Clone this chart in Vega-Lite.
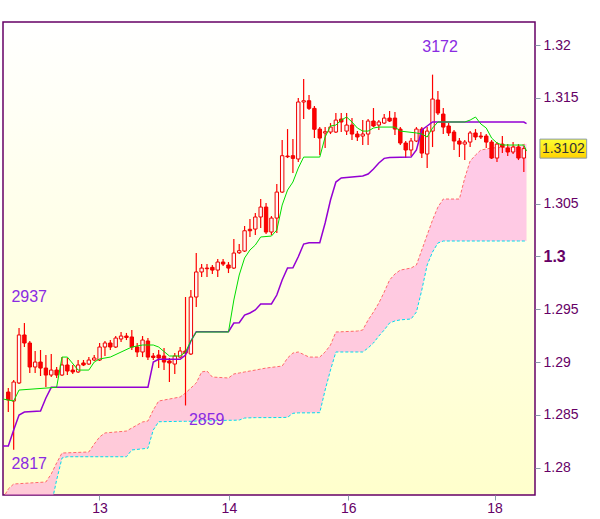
{
"$schema": "https://vega.github.io/schema/vega-lite/v6.json",
"width": 532, "height": 473,
"autosize": {"type": "none"},
"padding": {"left": 3, "top": 22, "right": 65, "bottom": 24},
"background": "#ffffff",
"config": {"view": {"stroke": null}, "scale": {"continuousPadding": 0}, "axis": {"grid": false, "domain": false, "tickColor": "#8a9aab", "tickSize": 5, "labelColor": "#660066", "labelFont": "Liberation Sans", "labelFontSize": 14}},
"datasets": {
"candles": [
{"i":0,"o":1.28717,"h":1.28755,"l":1.28528,"c":1.28642},
{"i":1,"o":1.28632,"h":1.28831,"l":1.2817,"c":1.28812},
{"i":2,"o":1.28803,"h":1.29323,"l":1.28793,"c":1.29257},
{"i":3,"o":1.29257,"h":1.2937,"l":1.29143,"c":1.29181},
{"i":4,"o":1.29181,"h":1.292,"l":1.28897,"c":1.28954},
{"i":5,"o":1.28954,"h":1.29105,"l":1.28897,"c":1.29001},
{"i":6,"o":1.29001,"h":1.29115,"l":1.28869,"c":1.28944},
{"i":7,"o":1.28944,"h":1.29067,"l":1.28765,"c":1.28878},
{"i":8,"o":1.28878,"h":1.29077,"l":1.28859,"c":1.28925},
{"i":9,"o":1.28925,"h":1.28954,"l":1.2885,"c":1.28878},
{"i":10,"o":1.28878,"h":1.29048,"l":1.28869,"c":1.28973},
{"i":11,"o":1.28973,"h":1.29039,"l":1.28878,"c":1.28916},
{"i":12,"o":1.28925,"h":1.28973,"l":1.28888,"c":1.28907},
{"i":13,"o":1.28907,"h":1.2902,"l":1.28897,"c":1.28973},
{"i":14,"o":1.28992,"h":1.2902,"l":1.28963,"c":1.28973},
{"i":15,"o":1.28982,"h":1.29048,"l":1.28973,"c":1.2902},
{"i":16,"o":1.2902,"h":1.29067,"l":1.29011,"c":1.29039},
{"i":17,"o":1.2902,"h":1.29181,"l":1.29011,"c":1.29143},
{"i":18,"o":1.29143,"h":1.292,"l":1.29058,"c":1.29181},
{"i":19,"o":1.29181,"h":1.29209,"l":1.29115,"c":1.29143},
{"i":20,"o":1.29143,"h":1.29247,"l":1.29134,"c":1.29228},
{"i":21,"o":1.29219,"h":1.29285,"l":1.2919,"c":1.29247},
{"i":22,"o":1.29247,"h":1.29276,"l":1.29209,"c":1.29233},
{"i":23,"o":1.29238,"h":1.29304,"l":1.29115,"c":1.29143},
{"i":24,"o":1.29143,"h":1.29181,"l":1.29048,"c":1.29096},
{"i":25,"o":1.29096,"h":1.29247,"l":1.29048,"c":1.29209},
{"i":26,"o":1.292,"h":1.29228,"l":1.2902,"c":1.29048},
{"i":27,"o":1.29058,"h":1.29086,"l":1.2902,"c":1.29044},
{"i":28,"o":1.29067,"h":1.29115,"l":1.28944,"c":1.29039},
{"i":29,"o":1.29058,"h":1.29134,"l":1.28925,"c":1.29001},
{"i":30,"o":1.29011,"h":1.29039,"l":1.28812,"c":1.28992},
{"i":31,"o":1.28982,"h":1.29086,"l":1.28888,"c":1.29058},
{"i":32,"o":1.29048,"h":1.29143,"l":1.29039,"c":1.29105},
{"i":33,"o":1.29105,"h":1.29616,"l":1.2859,"c":1.29086},
{"i":34,"o":1.29077,"h":1.29682,"l":1.29067,"c":1.29616},
{"i":35,"o":1.29616,"h":1.30032,"l":1.29521,"c":1.29853},
{"i":36,"o":1.29853,"h":1.29928,"l":1.29805,"c":1.2989},
{"i":37,"o":1.2989,"h":1.29928,"l":1.29805,"c":1.29884},
{"i":38,"o":1.29897,"h":1.29919,"l":1.29834,"c":1.29871},
{"i":39,"o":1.29871,"h":1.29976,"l":1.29805,"c":1.29947},
{"i":40,"o":1.29947,"h":1.29976,"l":1.29909,"c":1.29928},
{"i":41,"o":1.29919,"h":1.29947,"l":1.29843,"c":1.2989},
{"i":42,"o":1.2989,"h":1.30165,"l":1.29881,"c":1.30032},
{"i":43,"o":1.30035,"h":1.30117,"l":1.30023,"c":1.30054},
{"i":44,"o":1.30051,"h":1.30288,"l":1.30042,"c":1.30243},
{"i":45,"o":1.30257,"h":1.30354,"l":1.30184,"c":1.30243},
{"i":46,"o":1.30259,"h":1.30411,"l":1.30203,"c":1.30373},
{"i":47,"o":1.30373,"h":1.30543,"l":1.30269,"c":1.30467},
{"i":48,"o":1.30467,"h":1.30505,"l":1.30212,"c":1.30231},
{"i":49,"o":1.30231,"h":1.30382,"l":1.30203,"c":1.30363},
{"i":50,"o":1.30363,"h":1.30685,"l":1.30222,"c":1.30609},
{"i":51,"o":1.30609,"h":1.31101,"l":1.306,"c":1.30953},
{"i":52,"o":1.3095,"h":1.31205,"l":1.30931,"c":1.30943},
{"i":53,"o":1.30953,"h":1.31111,"l":1.30789,"c":1.30928},
{"i":54,"o":1.30922,"h":1.31499,"l":1.30893,"c":1.31461},
{"i":55,"o":1.31461,"h":1.31678,"l":1.313,"c":1.31473},
{"i":56,"o":1.31473,"h":1.31527,"l":1.31385,"c":1.31401},
{"i":57,"o":1.31401,"h":1.31423,"l":1.3112,"c":1.31203},
{"i":58,"o":1.31205,"h":1.31224,"l":1.30959,"c":1.3112},
{"i":59,"o":1.31168,"h":1.31224,"l":1.31026,"c":1.3118},
{"i":60,"o":1.31177,"h":1.31262,"l":1.31158,"c":1.31224},
{"i":61,"o":1.31177,"h":1.31357,"l":1.31168,"c":1.3129},
{"i":62,"o":1.313,"h":1.31357,"l":1.31177,"c":1.31272},
{"i":63,"o":1.31186,"h":1.31357,"l":1.31149,"c":1.31243},
{"i":64,"o":1.31243,"h":1.31309,"l":1.31101,"c":1.31158},
{"i":65,"o":1.31158,"h":1.31186,"l":1.31092,"c":1.3113},
{"i":66,"o":1.31139,"h":1.3129,"l":1.31054,"c":1.31158},
{"i":67,"o":1.31158,"h":1.313,"l":1.31054,"c":1.31281},
{"i":68,"o":1.31281,"h":1.31404,"l":1.31224,"c":1.31234},
{"i":69,"o":1.31243,"h":1.3129,"l":1.31196,"c":1.31272},
{"i":70,"o":1.31262,"h":1.31347,"l":1.31253,"c":1.31309},
{"i":71,"o":1.31309,"h":1.31376,"l":1.31272,"c":1.31281},
{"i":72,"o":1.31309,"h":1.31366,"l":1.31149,"c":1.31205},
{"i":73,"o":1.31205,"h":1.31224,"l":1.31054,"c":1.31073},
{"i":74,"o":1.31073,"h":1.31092,"l":1.30931,"c":1.31007},
{"i":75,"o":1.31007,"h":1.3112,"l":1.3095,"c":1.31092},
{"i":76,"o":1.31092,"h":1.31224,"l":1.31082,"c":1.31205},
{"i":77,"o":1.31205,"h":1.31224,"l":1.30931,"c":1.30978},
{"i":78,"o":1.30969,"h":1.31224,"l":1.30836,"c":1.31186},
{"i":79,"o":1.31186,"h":1.3172,"l":1.31035,"c":1.31489},
{"i":80,"o":1.3148,"h":1.31565,"l":1.31338,"c":1.31357},
{"i":81,"o":1.31347,"h":1.31404,"l":1.31158,"c":1.31224},
{"i":82,"o":1.31234,"h":1.31262,"l":1.31139,"c":1.31168},
{"i":83,"o":1.31177,"h":1.31196,"l":1.31007,"c":1.31092},
{"i":84,"o":1.31092,"h":1.3112,"l":1.3094,"c":1.31063},
{"i":85,"o":1.31063,"h":1.31101,"l":1.30912,"c":1.31082},
{"i":86,"o":1.31082,"h":1.31186,"l":1.31035,"c":1.31168},
{"i":87,"o":1.31168,"h":1.31205,"l":1.31101,"c":1.3113},
{"i":88,"o":1.31139,"h":1.31177,"l":1.31111,"c":1.3113},
{"i":89,"o":1.31139,"h":1.31158,"l":1.31026,"c":1.31082},
{"i":90,"o":1.31082,"h":1.31101,"l":1.30922,"c":1.30931},
{"i":91,"o":1.30931,"h":1.31082,"l":1.30893,"c":1.31063},
{"i":92,"o":1.31063,"h":1.31139,"l":1.30978,"c":1.31035},
{"i":93,"o":1.31026,"h":1.31063,"l":1.3095,"c":1.30988},
{"i":94,"o":1.30988,"h":1.31082,"l":1.30969,"c":1.31035},
{"i":95,"o":1.31035,"h":1.31063,"l":1.30912,"c":1.30931},
{"i":96,"o":1.30931,"h":1.31045,"l":1.30799,"c":1.3102}
],
"tenkan": [
{"i":-1,"v":1.28651},{"i":1,"v":1.28632},{"i":2,"v":1.28736},{"i":9,"v":1.28762},{"i":10,"v":1.29048},{"i":11,"v":1.29048},{"i":13,"v":1.28925},{"i":15,"v":1.28925},{"i":16,"v":1.29001},{"i":17,"v":1.2903},{"i":19,"v":1.29048},{"i":23,"v":1.29143},{"i":25,"v":1.29162},{"i":27,"v":1.29162},{"i":28,"v":1.29143},{"i":30,"v":1.29058},{"i":32,"v":1.29058},{"i":33,"v":1.29096},{"i":34,"v":1.292},{"i":35,"v":1.29285},{"i":41,"v":1.29285},{"i":42,"v":1.29588},{"i":43,"v":1.29824},{"i":44,"v":1.29985},{"i":45,"v":1.30061},{"i":46,"v":1.30108},{"i":47,"v":1.30184},{"i":49,"v":1.30193},{"i":50,"v":1.3025},{"i":51,"v":1.30486},{"i":52,"v":1.30628},{"i":53,"v":1.30704},{"i":54,"v":1.30836},{"i":55,"v":1.3094},{"i":58,"v":1.3094},{"i":59,"v":1.3113},{"i":60,"v":1.31234},{"i":61,"v":1.31243},{"i":62,"v":1.3129},{"i":63,"v":1.31319},{"i":64,"v":1.31272},{"i":65,"v":1.31215},{"i":66,"v":1.31186},{"i":67,"v":1.31186},{"i":68,"v":1.31215},{"i":69,"v":1.31224},{"i":72,"v":1.31224},{"i":73,"v":1.31186},{"i":76,"v":1.31168},{"i":77,"v":1.31158},{"i":78,"v":1.3113},{"i":79,"v":1.31215},{"i":80,"v":1.31272},{"i":85,"v":1.31272},{"i":86,"v":1.3129},{"i":87,"v":1.31319},{"i":88,"v":1.31253},{"i":89,"v":1.31215},{"i":90,"v":1.3112},{"i":91,"v":1.31073},{"i":92,"v":1.31054},{"i":96,"v":1.31054},{"i":96.5,"v":1.30997}
],
"kijun": [
{"i":-1,"v":1.28207},{"i":0,"v":1.28207},{"i":1,"v":1.28358},{"i":2,"v":1.285},{"i":3,"v":1.28528},{"i":6,"v":1.28538},{"i":7,"v":1.28661},{"i":8,"v":1.28762},{"i":26,"v":1.28762},{"i":27,"v":1.29001},{"i":28,"v":1.29027},{"i":32,"v":1.29027},{"i":33,"v":1.29067},{"i":34,"v":1.292},{"i":35,"v":1.29288},{"i":41,"v":1.29288},{"i":42,"v":1.2937},{"i":43,"v":1.29373},{"i":44,"v":1.29446},{"i":45,"v":1.29465},{"i":46,"v":1.29493},{"i":47,"v":1.2955},{"i":49,"v":1.2955},{"i":50,"v":1.29635},{"i":51,"v":1.29777},{"i":52,"v":1.2989},{"i":53,"v":1.29893},{"i":54,"v":1.29997},{"i":55,"v":1.30117},{"i":56,"v":1.3013},{"i":58,"v":1.3013},{"i":59,"v":1.30316},{"i":60,"v":1.30534},{"i":61,"v":1.30704},{"i":62,"v":1.30742},{"i":64,"v":1.30751},{"i":66,"v":1.30761},{"i":67,"v":1.3078},{"i":68,"v":1.30827},{"i":69,"v":1.30884},{"i":70,"v":1.30928},{"i":71,"v":1.30936},{"i":75,"v":1.3094},{"i":76,"v":1.31007},{"i":77,"v":1.31196},{"i":78,"v":1.31234},{"i":79,"v":1.31272},{"i":96,"v":1.31272},{"i":96.5,"v":1.31257}
],
"cloud": [
{"i":-1,"a":1.2771,"b":1.2765},{"i":0,"a":1.278,"b":1.2765},{"i":1,"a":1.27847,"b":1.2765},{"i":7,"a":1.27866,"b":1.2765},{"i":8,"a":1.27942,"b":1.27648},{"i":9,"a":1.28046,"b":1.27885},{"i":10,"a":1.2814,"b":1.28093},{"i":11,"a":1.28142,"b":1.28105},{"i":15,"a":1.2815,"b":1.28105},{"i":16,"a":1.28225,"b":1.28105},{"i":17,"a":1.28292,"b":1.28105},{"i":18,"a":1.2833,"b":1.28105},{"i":22,"a":1.28348,"b":1.28105},{"i":23,"a":1.28377,"b":1.28169},{"i":25,"a":1.28434,"b":1.2818},{"i":26,"a":1.28443,"b":1.28185},{"i":27,"a":1.28547,"b":1.28358},{"i":28,"a":1.28632,"b":1.28436},{"i":32,"a":1.2867,"b":1.2844},{"i":33,"a":1.28708,"b":1.2844},{"i":34,"a":1.28755,"b":1.2844},{"i":35,"a":1.28803,"b":1.28443},{"i":36,"a":1.28907,"b":1.28445},{"i":37,"a":1.28916,"b":1.28445},{"i":38,"a":1.28859,"b":1.28445},{"i":41,"a":1.2885,"b":1.2845},{"i":42,"a":1.28888,"b":1.2845},{"i":43,"a":1.28897,"b":1.28452},{"i":44,"a":1.28907,"b":1.28471},{"i":46,"a":1.28925,"b":1.28475},{"i":48,"a":1.28944,"b":1.28475},{"i":51,"a":1.28963,"b":1.28476},{"i":52,"a":1.29039,"b":1.28478},{"i":53,"a":1.29086,"b":1.28516},{"i":54,"a":1.29096,"b":1.2852},{"i":56,"a":1.29048,"b":1.2852},{"i":58,"a":1.29048,"b":1.28522},{"i":59,"a":1.29096,"b":1.28736},{"i":60,"a":1.29162,"b":1.28925},{"i":61,"a":1.29285,"b":1.29096},{"i":65,"a":1.29294,"b":1.29096},{"i":66,"a":1.29304,"b":1.29096},{"i":67,"a":1.29398,"b":1.29134},{"i":68,"a":1.29474,"b":1.29181},{"i":69,"a":1.29559,"b":1.29247},{"i":70,"a":1.29663,"b":1.29304},{"i":71,"a":1.29777,"b":1.2937},{"i":72,"a":1.29834,"b":1.2939},{"i":73,"a":1.29871,"b":1.294},{"i":75,"a":1.2989,"b":1.29408},{"i":76,"a":1.29919,"b":1.29474},{"i":77,"a":1.30061,"b":1.29682},{"i":78,"a":1.30203,"b":1.29919},{"i":79,"a":1.30344,"b":1.30042},{"i":80,"a":1.30467,"b":1.30127},{"i":81,"a":1.30543,"b":1.30146},{"i":84,"a":1.30543,"b":1.30146},{"i":85,"a":1.30742,"b":1.30146},{"i":86,"a":1.30903,"b":1.30146},{"i":87,"a":1.30959,"b":1.30146},{"i":88,"a":1.31007,"b":1.30146},{"i":90,"a":1.31026,"b":1.30146},{"i":95,"a":1.3104,"b":1.30146},{"i":96,"a":1.31059,"b":1.30146},{"i":96.5,"a":1.31065,"b":1.30146}
],
"labels": [
{"i":3.89,"p":1.29616,"t":"2937"},{"i":3.89,"p":1.28036,"t":"2817"},{"i":36.95,"p":1.2845,"t":"2859"},{"i":80.4,"p":1.31981,"t":"3172"}
],
"last": [{"p":1.3102}]
},
"layer": [
{"data": {"values": [{}]},
 "mark": {"type": "rect", "stroke": "#660066", "strokeWidth": 1.5, "fill": {"gradient": "linear", "x1": 0, "y1": 0, "x2": 0, "y2": 1, "stops": [{"offset": 0, "color": "#ffffff"}, {"offset": 1, "color": "#ffffcc"}]}},
 "encoding": {
  "x": {"datum": -0.987, "type": "quantitative", "title": null},
  "x2": {"datum": 98.08},
  "y": {"datum": 1.32218, "type": "quantitative", "title": null},
  "y2": {"datum": 1.27743}
 }},
{"data": {"name": "cloud"},
 "mark": {"type": "area", "clip": true, "color": "#ff9ee0", "opacity": 0.55},
 "encoding": {"x": {"field": "i", "type": "quantitative", "title": null}, "y": {"field": "a", "type": "quantitative", "title": null}, "y2": {"field": "b"}}},
{"data": {"name": "cloud"},
 "mark": {"type": "line", "clip": true, "color": "#ff6a6a", "strokeWidth": 1, "strokeDash": [3, 2]},
 "encoding": {"x": {"field": "i", "type": "quantitative", "title": null}, "y": {"field": "a", "type": "quantitative", "title": null}}},
{"data": {"name": "cloud"},
 "mark": {"type": "line", "clip": true, "color": "#00dcee", "strokeWidth": 1, "strokeDash": [3, 2]},
 "encoding": {"x": {"field": "i", "type": "quantitative", "title": null}, "y": {"field": "b", "type": "quantitative", "title": null}}},
{"data": {"name": "candles"},
 "mark": {"type": "rule", "color": "#ff0000", "strokeWidth": 1.2},
 "encoding": {
  "x": {"field": "i", "type": "quantitative", "title": null, "scale": {"domain": [-0.987, 98.08], "nice": false, "zero": false, "padding": 0}, "axis": {"orient": "bottom", "values": [16.98, 41.08, 63.31, 90.54], "labelExpr": "datum.value < 30 ? '13' : datum.value < 50 ? '14' : datum.value < 75 ? '16' : '18'", "labelPadding": 1, "zindex": 1}},
  "y": {"field": "l", "type": "quantitative", "title": null, "scale": {"domain": [1.27743, 1.32218], "nice": false, "zero": false, "padding": 0}, "axis": {"orient": "right", "values": [1.28, 1.285, 1.29, 1.295, 1.3, 1.305, 1.315, 1.32], "format": "~g", "labelPadding": 3, "zindex": 1, "labelFontWeight": {"condition": {"test": "abs(datum.value - 1.3) < 0.000001", "value": "bold"}, "value": "normal"}, "labelFontSize": {"condition": {"test": "abs(datum.value - 1.3) < 0.000001", "value": 16}, "value": 14}}},
  "y2": {"field": "h"}}},
{"data": {"name": "candles"},
 "mark": {"type": "bar", "width": 3.4, "stroke": "#ee0000", "strokeWidth": 1},
 "encoding": {"x": {"field": "i", "type": "quantitative", "title": null}, "y": {"field": "o", "type": "quantitative", "title": null}, "y2": {"field": "c"},
  "fill": {"condition": {"test": "datum.c > datum.o", "value": "#fff8f8"}, "value": "#ff0000"}}},
{"data": {"name": "kijun"},
 "mark": {"type": "line", "clip": true, "color": "#9400d3", "strokeWidth": 1.5},
 "encoding": {"x": {"field": "i", "type": "quantitative", "title": null}, "y": {"field": "v", "type": "quantitative", "title": null}}},
{"data": {"name": "tenkan"},
 "mark": {"type": "line", "clip": true, "color": "#00dd00", "strokeWidth": 1},
 "encoding": {"x": {"field": "i", "type": "quantitative", "title": null}, "y": {"field": "v", "type": "quantitative", "title": null}}},
{"data": {"name": "labels"},
 "mark": {"type": "text", "align": "center", "baseline": "middle", "font": "Liberation Sans", "fontSize": 16, "color": "#8a2be2"},
 "encoding": {"x": {"field": "i", "type": "quantitative", "title": null}, "y": {"field": "p", "type": "quantitative", "title": null}, "text": {"field": "t"}}},
{"data": {"values": [{}]},
 "mark": {"type": "rect", "stroke": "#8a9bb0", "strokeWidth": 1, "fill": {"gradient": "linear", "x1": 0, "y1": 0, "x2": 0, "y2": 1, "stops": [{"offset": 0, "color": "#ffff30"}, {"offset": 1, "color": "#ffd200"}]}},
 "encoding": {"x": {"datum": 99.0, "type": "quantitative", "title": null}, "x2": {"datum": 107.7}, "y": {"datum": 1.3111, "type": "quantitative", "title": null}, "y2": {"datum": 1.3093}}},
{"data": {"name": "last"},
 "mark": {"type": "text", "align": "center", "baseline": "middle", "font": "Liberation Sans", "fontSize": 14, "color": "#333333"},
 "encoding": {"x": {"datum": 103.35, "type": "quantitative", "title": null}, "y": {"field": "p", "type": "quantitative", "title": null}, "text": {"field": "p", "format": ".4f"}}}
]
}
